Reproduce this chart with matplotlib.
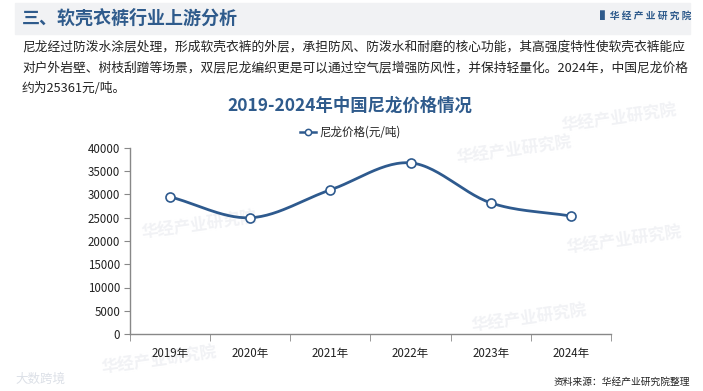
import numpy as np
import matplotlib.pyplot as plt
from matplotlib.patches import Rectangle

plt.rcParams['font.family'] = ['Noto Sans CJK SC', 'DejaVu Sans']

years = ['2019年', '2020年', '2021年', '2022年', '2023年', '2024年']
price = [29500, 25000, 31000, 36800, 28200, 25361]
yticks = [0, 5000, 10000, 15000, 20000, 25000, 30000, 35000, 40000]

header = '三、软壳衣裤行业上游分析'
body = ['尼龙经过防泼水涂层处理，形成软壳衣裤的外层，承担防风、防泼水和耐磨的核心功能，其高强度特性使软壳衣裤能应',
        '对户外岩壁、树枝刮蹭等场景，双层尼龙编织更是可以通过空气层增强防风性，并保持轻量化。2024年，中国尼龙价格',
        '约为25361元/吨。']
chart_title = '2019-2024年中国尼龙价格情况'
series_name = '尼龙价格(元/吨)'
source = '资料来源：华经产业研究院整理'

blue = '#2F5B8C'
line_c = '#2E5A8E'


def smooth(x, y, n=30):
    # catmull-rom style smoothing like excel's smoothed line
    x = np.asarray(x, float)
    y = np.asarray(y, float)
    px = np.concatenate([[2 * x[0] - x[1]], x, [2 * x[-1] - x[-2]]])
    py = np.concatenate([[2 * y[0] - y[1]], y, [2 * y[-1] - y[-2]]])
    xs, ys = [], []
    t = np.linspace(0, 1, n)
    for i in range(1, len(px) - 2):
        for arr, out in ((px, xs), (py, ys)):
            p0, p1, p2, p3 = arr[i - 1], arr[i], arr[i + 1], arr[i + 2]
            out.extend(0.5 * ((2 * p1) + (-p0 + p2) * t + (2 * p0 - 5 * p1 + 4 * p2 - p3) * t ** 2
                              + (-p0 + 3 * p1 - 3 * p2 + p3) * t ** 3))
    return xs, ys


fig = plt.figure(figsize=(7.03, 3.91), dpi=100)
fig.patch.set_facecolor('white')

# header band
fig.patches.append(Rectangle((15 / 703, 1 - 34 / 391), 675 / 703, 31 / 391,
                             transform=fig.transFigure, color='#F1F2F4', zorder=0))
fig.text(22 / 703, 1 - 18 / 391, header, fontsize=13, fontweight='bold', color=blue, va='center')
fig.text(600 / 703, 1 - 16 / 391, '▌华 经 产 业 研 究 院', fontsize=7, fontweight='bold',
         color=blue, va='center', family=['Noto Sans CJK SC', 'DejaVu Sans'])

for i, line in enumerate(body):
    fig.text(22 / 703, 1 - (47 + 20.5 * i) / 391, line, fontsize=9.2, color='#222222', va='center')

fig.text(350 / 703, 1 - 106 / 391, chart_title, fontsize=12.5, fontweight='bold', color=blue,
         ha='center', va='center')

# faint watermarks
for wx, wy in [(455, 150), (140, 225), (560, 118), (470, 318), (100, 360), (565, 240)]:
    fig.text(wx / 703, 1 - wy / 391, '华经产业研究院', fontsize=12, fontweight='bold',
             color='#F1F2F5', ha='left', va='center', rotation=8, zorder=-1)
fig.text(15 / 703, 1 - 379 / 391, '大数跨境', fontsize=9, color='#DCE0E7', va='center', zorder=-1)

ax = fig.add_axes([130 / 703, 57 / 391, 481 / 703, 186 / 391])
ax.set_zorder(2)
ax.set_facecolor('none')
x = np.arange(len(years))
sx, sy = smooth(x, price)
ax.plot(sx, sy, color=line_c, lw=2, zorder=3)
ax.plot(x, price, 'o', ms=6.5, mfc='white', mec=line_c, mew=1.2, zorder=4)

ax.set_xlim(-0.5, len(years) - 0.5)
ax.set_ylim(0, 40000)
ax.set_yticks(yticks)
ax.set_yticklabels([str(v) for v in yticks])
ax.set_xticks(x)
ax.set_xticklabels(years)
ax.set_xticks(np.arange(-0.5, len(years), 1), minor=True)
ax.tick_params(axis='x', which='major', length=0, pad=9, labelsize=8.3, colors='#222222')
ax.tick_params(axis='x', which='minor', length=5, color='#888888', direction='out')
ax.tick_params(axis='y', length=4, color='#888888', labelcolor='#222222', labelsize=8.3, pad=3)
for s in ['top', 'right']:
    ax.spines[s].set_visible(False)
for s in ['left', 'bottom']:
    ax.spines[s].set_color('#888888')
    ax.spines[s].set_linewidth(1)

# legend
lx = 300 / 703
ly = 1 - 132 / 391
fig.lines.append(plt.Line2D([lx, lx + 16 / 703], [ly, ly], color=line_c, lw=1.8,
                            transform=fig.transFigure))
fig.lines.append(plt.Line2D([lx + 8 / 703], [ly], color=line_c, marker='o', mfc='white', mec=line_c,
                            ms=4.5, mew=1.1, transform=fig.transFigure))
fig.text(lx + 19 / 703, ly, series_name, fontsize=8.3, color='#222222', va='center')

fig.text(690 / 703, 1 - 382 / 391, source, fontsize=7, color='#222222', ha='right', va='center')

fig.savefig('out.png', dpi=100)
